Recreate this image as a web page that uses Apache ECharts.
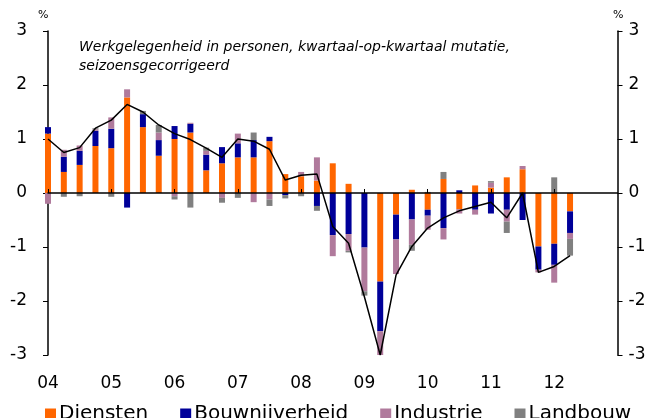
<!DOCTYPE html>
<html lang="nl">
<head>
    <meta charset="utf-8">
    <title>Werkgelegenheid</title>
    <script type="text/javascript" src="https://cdn.jsdelivr.net/npm/echarts/dist/echarts.min.js"></script>
    <style>
        body { margin: 0; background: #fff; }
    </style>
</head>
<body>
    <div id="chart" style="width: 661px; height: 418px;"></div>

    <script type="text/javascript" charset="utf-8">
        // kwartalen 2004K1 .. 2013K1; data loopt tot 2012K2
        var quarters = [];
        for (var y = 4; y <= 13; y++) {
            for (var q = 1; q <= 4; q++) {
                if (quarters.length < 37) quarters.push((y < 10 ? '0' : '') + y + 'K' + q);
            }
        }

        var diensten = [1.10, 0.39, 0.52, 0.87, 0.83, 1.77, 1.22, 0.69, 1.00, 1.12, 0.42, 0.55, 0.66, 0.66, 0.96, 0.35, 0.31, 0.23,
            0.55, 0.17, 0.00, -1.64, -0.40, 0.06, -0.31, 0.26, -0.30, 0.14, 0.10, 0.29, 0.44, -0.99, -0.94, -0.34];
        var bouw = [0.12, 0.28, 0.26, 0.28, 0.36, -0.27, 0.24, 0.29, 0.24, 0.16, 0.29, 0.30, 0.26, 0.32, 0.08, -0.04, 0.00, -0.24,
            -0.78, -0.76, -1.01, -0.92, -0.46, -0.49, -0.11, -0.65, 0.05, -0.31, -0.38, -0.31, -0.50, -0.43, -0.39, -0.40];
        var industrie = [-0.20, 0.13, 0.10, 0.03, 0.21, 0.15, 0.00, 0.14, -0.06, 0.02, 0.07, -0.09, 0.18, -0.17, -0.12, 0.00, 0.08, 0.43,
            -0.39, -0.31, -0.81, -0.47, -0.64, -0.47, -0.26, -0.21, -0.08, -0.09, 0.09, -0.22, 0.06, -0.05, -0.33, -0.11];
        var landbouw = [0.00, -0.07, -0.06, 0.02, -0.07, 0.00, 0.06, 0.14, -0.06, -0.27, 0.06, -0.09, -0.09, 0.14, -0.12, -0.06, -0.06, -0.09,
            0.00, -0.03, -0.08, 0.00, 0.00, -0.11, 0.02, 0.13, 0.00, 0.00, 0.03, -0.21, 0.00, 0.00, 0.29, -0.31];
        var totaal = [1.00, 0.75, 0.84, 1.20, 1.35, 1.64, 1.50, 1.26, 1.10, 0.99, 0.83, 0.66, 1.00, 0.96, 0.81, 0.24, 0.33, 0.35,
            -0.62, -0.93, -1.92, -3.00, -1.52, -0.99, -0.65, -0.46, -0.33, -0.25, -0.17, -0.46, 0.00, -1.47, -1.36, -1.16];

        var yMin = -3, yMax = 3, yStep = 1;
        var font = 'DejaVu Sans';

        function isYearTick(index) {
            return index % 4 === 0 && index <= 32;
        }

        var chart = echarts.init(document.getElementById('chart'));

        function barSeries(name, data, color) {
            return {
                name: name,
                type: 'bar',
                stack: 'totaal',
                barWidth: 6,
                clip: true,
                data: data,
                itemStyle: { color: color },
                emphasis: { disabled: true }
            };
        }

        chart.setOption({
            animation: false,
            textStyle: { fontFamily: font, color: '#000' },
            grid: { left: 48, right: 43.5, top: 31, bottom: 63 },
            title: {
                text: 'Werkgelegenheid in personen, kwartaal-op-kwartaal mutatie,\nseizoensgecorrigeerd',
                left: 79,
                top: 38,
                padding: 0,
                textStyle: { fontSize: 14, fontStyle: 'italic', fontWeight: 'normal', lineHeight: 19, color: '#000', fontFamily: font }
            },
            graphic: [
                { type: 'text', left: 38, top: 10, style: { text: '%', fontSize: 11, fill: '#000', fontFamily: font } },
                { type: 'text', left: 613, top: 10, style: { text: '%', fontSize: 11, fill: '#000', fontFamily: font } }
            ],
            legend: {
                left: 40,
                top: 399,
                itemGap: 32,
                itemWidth: 11,
                itemHeight: 11,
                icon: 'rect',
                textStyle: { fontSize: 20, color: '#000', fontFamily: font, padding: [0, 0, 0, -2] },
                data: ['Diensten', 'Bouwnijverheid', 'Industrie', 'Landbouw']
            },
            xAxis: [{
                type: 'category',
                data: quarters,
                boundaryGap: false,
                axisLine: { show: false, onZero: false },
                axisTick: { show: false },
                splitLine: { show: false },
                axisLabel: {
                    fontSize: 17,
                    color: '#000',
                    margin: 20,
                    interval: function (index) { return isYearTick(index); },
                    formatter: function (v) { return v.slice(0, 2); }
                }
            }, {
                type: 'category',
                data: quarters,
                boundaryGap: false,
                z: 5,
                axisLine: { show: true, onZero: true, lineStyle: { color: '#000', width: 1.5 } },
                axisTick: { show: true, length: 4, interval: function (index) { return isYearTick(index); }, lineStyle: { color: '#000' } },
                axisLabel: { show: false },
                splitLine: { show: false }
            }],
            yAxis: [{
                type: 'value',
                position: 'left',
                min: yMin,
                max: yMax,
                interval: yStep,
                axisLine: { show: true, lineStyle: { color: '#000', width: 1.5 } },
                axisTick: { show: true, length: 5, lineStyle: { color: '#000' } },
                splitLine: { show: false },
                axisLabel: { fontSize: 17, color: '#000', margin: 21 }
            }, {
                type: 'value',
                position: 'right',
                min: yMin,
                max: yMax,
                interval: yStep,
                axisLine: { show: true, lineStyle: { color: '#000', width: 1.5 } },
                axisTick: { show: true, length: 5, lineStyle: { color: '#000' } },
                splitLine: { show: false },
                axisLabel: { fontSize: 17, color: '#000', margin: 11 }
            }],
            series: [
                barSeries('Diensten', diensten, '#FF6600'),
                barSeries('Bouwnijverheid', bouw, '#000099'),
                barSeries('Industrie', industrie, '#B07A9C'),
                barSeries('Landbouw', landbouw, '#808080'),
                {
                    name: 'Totaal',
                    type: 'line',
                    data: totaal,
                    symbol: 'none',
                    z: 6,
                    lineStyle: { color: '#000', width: 1.5 },
                    emphasis: { disabled: true }
                }
            ]
        });
    </script>
</body>
</html>
